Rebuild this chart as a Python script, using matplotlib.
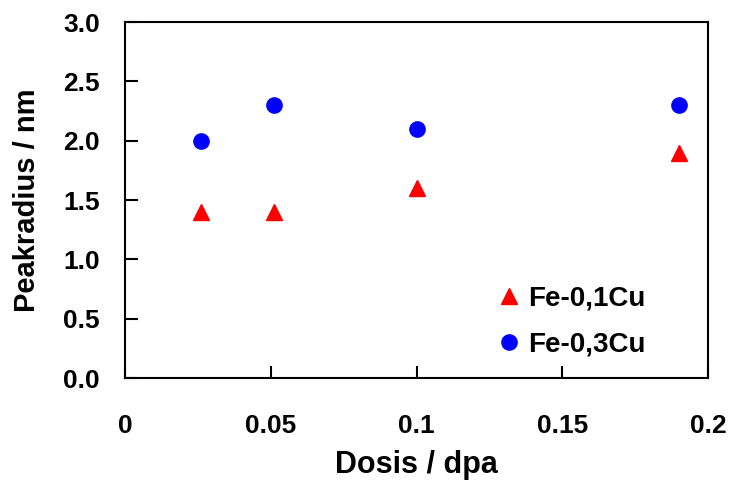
import matplotlib.pyplot as plt

plt.rcParams['font.family'] = ['Liberation Sans', 'DejaVu Sans']
plt.rcParams['font.weight'] = 'bold'

# data
dose_cu01 = [0.026, 0.051, 0.1, 0.19]
radius_cu01 = [1.4, 1.4, 1.6, 1.9]
dose_cu03 = [0.026, 0.051, 0.1, 0.19]
radius_cu03 = [2.0, 2.3, 2.1, 2.3]
labels = ["Fe-0,1Cu", "Fe-0,3Cu"]

fig = plt.figure(figsize=(7.3, 4.88), dpi=100)
ax = fig.add_axes([125 / 730, 1 - 378 / 488, 583 / 730, 356 / 488])

ax.plot(dose_cu01, radius_cu01, linestyle="none", marker="^", color="#ff0000",
        markersize=12, label=labels[0])
ax.plot(dose_cu03, radius_cu03, linestyle="none", marker="o", color="#0000ff",
        markersize=11, label=labels[1])

ax.set_xlim(0, 0.2)
ax.set_ylim(0, 3.0)
ax.set_xticks([0, 0.05, 0.1, 0.15, 0.2])
ax.set_xticklabels(["0", "0.05", "0.1", "0.15", "0.2"])
ax.set_yticks([0, 0.5, 1.0, 1.5, 2.0, 2.5, 3.0])
ax.set_yticklabels(["0.0", "0.5", "1.0", "1.5", "2.0", "2.5", "3.0"])
ax.tick_params(direction="in", length=9, width=1.5, labelsize=19)
ax.tick_params(axis="x", pad=26)
ax.tick_params(axis="y", pad=18)
for s in ax.spines.values():
    s.set_linewidth(1.5)

ax.set_xlabel("Dosis / dpa", fontsize=22, fontweight="bold")
ax.set_ylabel("Peakradius / nm", fontsize=21, fontweight="bold")
ax.xaxis.label.set_va("center")
ax.yaxis.label.set_va("center")
ax.xaxis.set_label_coords(0.5, (378 - 465) / 356)
ax.yaxis.set_label_coords((27 - 125) / 583, 0.5)

ax.legend(loc="lower left", frameon=False, fontsize=20, handletextpad=0.2,
          handlelength=1.0, labelspacing=0.74, borderpad=0, borderaxespad=0,
          bbox_to_anchor=((495 - 125) / 583, (378 - 358) / 356))

fig.savefig("out.png", dpi=100)
